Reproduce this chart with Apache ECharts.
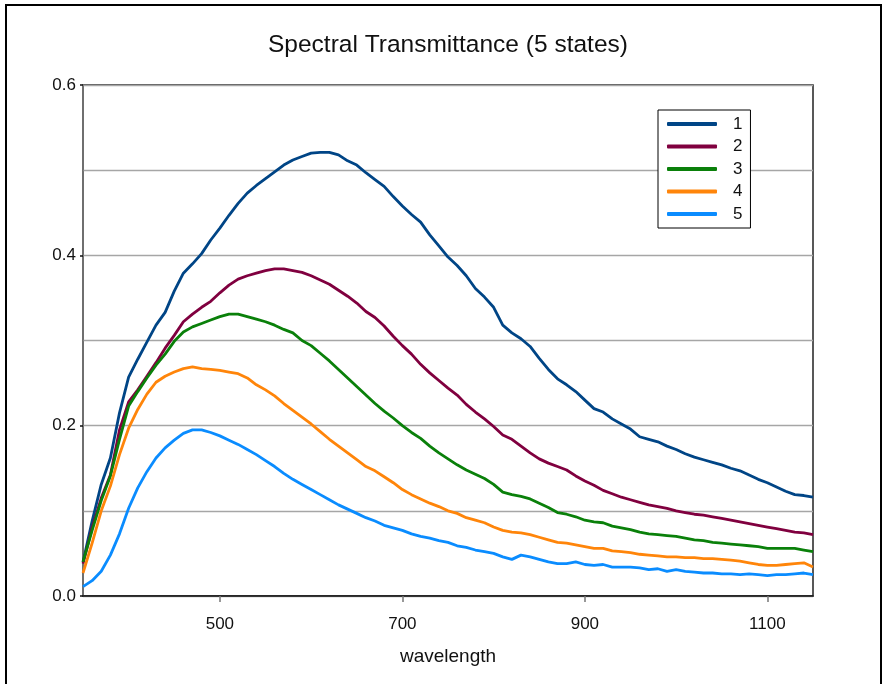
<!DOCTYPE html>
<html>
<head>
<meta charset="utf-8">
<title>Spectral Transmittance</title>
<script src="https://cdn.jsdelivr.net/npm/echarts@6/dist/echarts.min.js"></script>
<style>
  html, body {
    margin: 0;
    padding: 0;
    background: #fff;
  }
  #chart {
    width: 885px;
    height: 684px;
  }
</style>
</head>
<body>
<div id="chart"></div>
<script>
// wavelength, 10 nm steps from 350 to 1150
let wavelength = []
for (let w = 350; w <= 1150; w += 10) wavelength.push(w)

let state1 = [
  0.040, 0.088, 0.131, 0.162, 0.215, 0.257, 0.278, 0.298, 0.318, 0.333,
  0.358, 0.379, 0.390, 0.402, 0.418, 0.432, 0.447, 0.461, 0.473, 0.482,
  0.490, 0.498, 0.506, 0.512, 0.516, 0.520, 0.521, 0.521, 0.518, 0.511,
  0.506, 0.497, 0.489, 0.481, 0.469, 0.458, 0.448, 0.439, 0.424, 0.411,
  0.398, 0.388, 0.376, 0.361, 0.351, 0.339, 0.318, 0.309, 0.302, 0.293,
  0.279, 0.266, 0.255, 0.248, 0.240, 0.230, 0.220, 0.216, 0.208, 0.202,
  0.196, 0.187, 0.184, 0.181, 0.176, 0.172, 0.167, 0.163, 0.160, 0.157,
  0.154, 0.150, 0.147, 0.142, 0.137, 0.133, 0.128, 0.123, 0.119, 0.118,
  0.116
]
let state2 = [
  0.038, 0.080, 0.115, 0.142, 0.195, 0.228, 0.242, 0.258, 0.274, 0.291,
  0.306, 0.322, 0.331, 0.339, 0.346, 0.356, 0.365, 0.372, 0.376, 0.379,
  0.382, 0.384, 0.384, 0.382, 0.380, 0.376, 0.371, 0.366, 0.359, 0.352,
  0.344, 0.334, 0.327, 0.317, 0.305, 0.294, 0.284, 0.272, 0.262, 0.253,
  0.244, 0.236, 0.225, 0.216, 0.208, 0.199, 0.189, 0.184, 0.176, 0.168,
  0.161, 0.156, 0.152, 0.148, 0.141, 0.135, 0.130, 0.124, 0.120, 0.116,
  0.113, 0.110, 0.107, 0.105, 0.103, 0.100, 0.098, 0.096, 0.095, 0.093,
  0.091, 0.089, 0.087, 0.085, 0.083, 0.081, 0.079, 0.077, 0.075, 0.074,
  0.072
]
let state3 = [
  0.040, 0.077, 0.112, 0.141, 0.184, 0.223, 0.240, 0.256, 0.271, 0.284,
  0.299, 0.310, 0.316, 0.320, 0.324, 0.328, 0.331, 0.331, 0.328, 0.325,
  0.322, 0.318, 0.313, 0.309, 0.300, 0.294, 0.285, 0.276, 0.266, 0.256,
  0.246, 0.236, 0.226, 0.217, 0.209, 0.200, 0.192, 0.185, 0.176, 0.168,
  0.161, 0.154, 0.148, 0.143, 0.138, 0.131, 0.122, 0.119, 0.117, 0.114,
  0.109, 0.104, 0.098, 0.096, 0.093, 0.089, 0.087, 0.086, 0.082, 0.080,
  0.078, 0.075, 0.073, 0.072, 0.071, 0.070, 0.068, 0.066, 0.065, 0.063,
  0.062, 0.061, 0.060, 0.059, 0.058, 0.056, 0.056, 0.056, 0.056, 0.054,
  0.052
]
let state4 = [
  0.027, 0.062, 0.100, 0.129, 0.166, 0.197, 0.219, 0.237, 0.251, 0.258,
  0.263, 0.267, 0.269, 0.267, 0.266, 0.265, 0.263, 0.261, 0.256, 0.248,
  0.242, 0.235, 0.226, 0.218, 0.210, 0.202, 0.193, 0.184, 0.176, 0.168,
  0.160, 0.152, 0.147, 0.140, 0.133, 0.125, 0.119, 0.114, 0.109, 0.105,
  0.100, 0.097, 0.092, 0.089, 0.086, 0.081, 0.077, 0.075, 0.074, 0.072,
  0.069, 0.066, 0.063, 0.062, 0.060, 0.058, 0.056, 0.056, 0.053, 0.052,
  0.051, 0.049, 0.048, 0.047, 0.046, 0.046, 0.045, 0.045, 0.044, 0.044,
  0.043, 0.042, 0.041, 0.039, 0.037, 0.036, 0.036, 0.037, 0.038, 0.039,
  0.034
]
let state5 = [
  0.011, 0.018, 0.029, 0.048, 0.073, 0.103, 0.127, 0.146, 0.162, 0.174,
  0.183, 0.191, 0.195, 0.195, 0.192, 0.188, 0.183, 0.178, 0.172, 0.166,
  0.159, 0.152, 0.144, 0.137, 0.131, 0.125, 0.119, 0.113, 0.107, 0.102,
  0.097, 0.092, 0.088, 0.083, 0.080, 0.077, 0.073, 0.070, 0.068, 0.065,
  0.063, 0.059, 0.057, 0.054, 0.052, 0.050, 0.046, 0.043, 0.048, 0.046,
  0.043, 0.040, 0.038, 0.038, 0.040, 0.037, 0.036, 0.037, 0.034, 0.034,
  0.034, 0.033, 0.031, 0.032, 0.029, 0.031, 0.029, 0.028, 0.027, 0.027,
  0.026, 0.026, 0.025, 0.026, 0.025, 0.024, 0.025, 0.025, 0.026, 0.027,
  0.025
]

let stateNames = ['1', '2', '3', '4', '5']
let stateColors = ['#004586', '#80003f', '#0a800a', '#ff850a', '#0a8cff']
let xTicks = [500, 700, 900, 1100]
let yTicks = [0, 0.2, 0.4, 0.6]

let font = 'Liberation Sans, Arial, sans-serif'

function pairs (values) {
  return values.map((v, i) => [wavelength[i], v])
}

let myChart = echarts.init(document.getElementById('chart'), null, { renderer: 'canvas' })

let series = [state1, state2, state3, state4, state5].map((values, i) => {
  return {
    name: stateNames[i],
    type: 'line',
    yAxisIndex: 0,
    data: pairs(values),
    symbol: 'none',
    smooth: false,
    clip: true,
    lineStyle: {
      color: stateColors[i],
      width: 2.8
    },
    itemStyle: {
      color: stateColors[i]
    }
  }
})

myChart.setOption({
  animation: false,
  backgroundColor: '#fff',
  title: {
    text: 'Spectral Transmittance (5 states)',
    left: 263,
    top: 28,
    textStyle: {
      fontFamily: font,
      fontSize: 24.5,
      fontWeight: 'normal',
      color: '#111'
    }
  },
  graphic: [
    {
      type: 'rect',
      shape: { x: 6, y: 5, width: 875, height: 700 },
      style: { fill: 'none', stroke: '#000', lineWidth: 2 },
      silent: true
    }
  ],
  grid: {
    left: 83,
    top: 85,
    right: 72,
    bottom: 88,
    show: true,
    borderColor: '#222',
    borderWidth: 1.5
  },
  legend: {
    orient: 'vertical',
    left: 658,
    top: 110,
    padding: [5.5, 8, 5.5, 9],
    itemGap: 5.5,
    itemWidth: 50,
    itemHeight: 4,
    icon: 'roundRect',
    backgroundColor: '#fff',
    borderColor: '#000',
    borderWidth: 1,
    borderRadius: 0,
    textStyle: {
      fontFamily: font,
      fontSize: 17,
      color: '#111',
      padding: [0, 0, 0, 11]
    },
    data: stateNames
  },
  xAxis: {
    type: 'value',
    min: 350,
    max: 1150,
    name: 'wavelength',
    nameLocation: 'middle',
    nameGap: 51,
    nameTextStyle: {
      fontFamily: font,
      fontSize: 19,
      color: '#111'
    },
    axisLine: {
      show: true,
      lineStyle: { color: '#111', width: 1.5 }
    },
    axisTick: {
      show: true,
      length: 6,
      customValues: xTicks,
      lineStyle: { color: '#777', width: 1.5 }
    },
    axisLabel: {
      customValues: xTicks,
      margin: 20,
      fontFamily: font,
      fontSize: 17,
      color: '#111',
      formatter: (value) => String(value)
    },
    splitLine: { show: false }
  },
  yAxis: [
    {
      type: 'value',
      min: 0,
      max: 0.6,
      interval: 0.2,
      axisLine: {
        show: true,
        lineStyle: { color: '#777', width: 1.5 }
      },
      axisTick: {
        show: true,
        length: 3,
        customValues: yTicks,
        lineStyle: { color: '#111', width: 1.5 }
      },
      axisLabel: {
        customValues: yTicks,
        margin: 7,
        fontFamily: font,
        fontSize: 17,
        color: '#111',
        formatter: (value) => value.toFixed(1)
      },
      splitLine: { show: false }
    },
    {
      // gridlines every 0.1
      type: 'value',
      position: 'left',
      min: 0,
      max: 0.6,
      interval: 0.1,
      axisLine: { show: false },
      axisTick: { show: false },
      axisLabel: { show: false },
      splitLine: {
        show: true,
        lineStyle: { color: '#a6a6a6', width: 1.3 }
      }
    }
  ],
  series: series
})
</script>
</body>
</html>
